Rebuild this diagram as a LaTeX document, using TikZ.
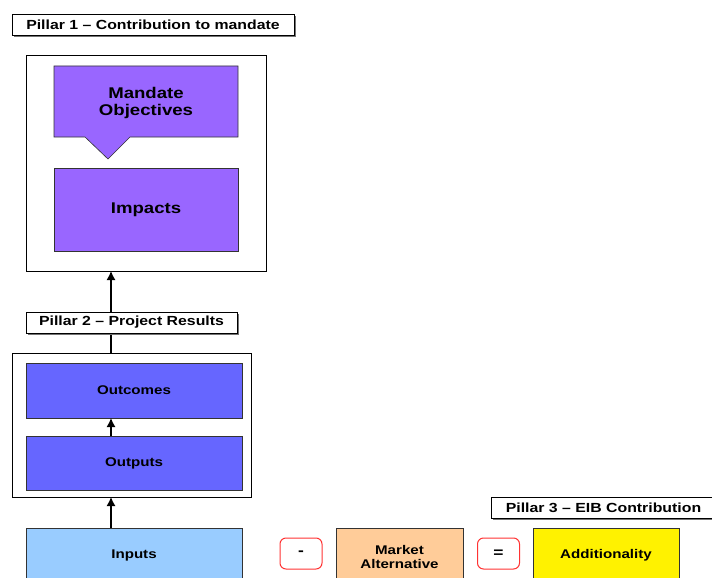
\documentclass[tikz,border=0pt]{standalone}
\usepackage{fontspec}
\setmainfont{Liberation Sans}[FakeStretch=1.2]
\usepackage{tikz}
\usetikzlibrary{positioning,calc,shadows,arrows.meta}

\definecolor{purp}{HTML}{9966FF}
\definecolor{blu}{HTML}{6666FF}
\definecolor{lightblu}{HTML}{99CCFF}
\definecolor{peach}{HTML}{FFCC99}
\definecolor{signred}{HTML}{FF3333}

\begin{document}
\begin{tikzpicture}[
        x=1pt,y=-1pt,
        every node/.style={
          outer sep=0pt,
          inner sep=0pt,
          align=center,
          font=\fontsize{12.6}{14}\selectfont\bfseries
          },
        pillar/.style={
          draw=black,
          fill=white,
          line width=0.7pt,
          minimum height=21pt,
          font=\fontsize{13.2}{15}\selectfont\bfseries,
          drop shadow={shadow xshift=1.6pt,shadow yshift=-1.6pt,fill=black!55,opacity=1}
          },
        frame/.style={
          draw=black,
          fill=white,
          line width=0.9pt
          },
        inbox/.style={
          draw=black!80,
          line width=0.6pt
          },
        big/.style={
          font=\fontsize{15.5}{17}\selectfont\bfseries
          },
        sign/.style={
          draw=signred,
          fill=white,
          rounded corners=6pt,
          line width=1pt,
          minimum width=42pt,
          minimum height=31pt,
          font=\fontsize{14.5}{16}\selectfont\bfseries
          },
        >={Latex[length=9pt,width=9pt]}
        ]
        \useasboundingbox (0,0) rectangle (712,578);
        \clip (0,0) rectangle (712,578);
        \coordinate (axis) at (111,0);

        % Pillar 1
        \node[pillar,minimum width=282pt] (pil1) at (153,24.5) {Pillar 1 -- Contribution to mandate};
        \node[frame,minimum width=240pt,minimum height=216pt] (frame1) at (146,163) {};
        \node[minimum width=184pt,minimum height=71pt] (obj) at (146,101.5) {};
        \draw[inbox,fill=purp] (obj.north west) -- (obj.north east) -- (obj.south east)
          -- ($(obj.south west)+(76,0)$) -- ($(obj.south west)+(54,22)$)
          -- ($(obj.south west)+(31,0)$) -- (obj.south west) -- cycle;
        \node[big] at ($(obj)+(0,1.5)$) {Mandate\\Objectives};
        \node[inbox,big,fill=purp,minimum width=184pt,minimum height=83pt] (impacts) at (146,209.5) {Impacts};

        % Pillar 2
        \node[frame,minimum width=239pt,minimum height=144pt] (frame2) at (131.5,425) {};
        \node[inbox,fill=blu,minimum width=216pt,minimum height=55pt] (outcomes) at (134,390.5) {Outcomes};
        \node[inbox,fill=blu,minimum width=216pt,minimum height=54pt] (outputs) at (134,463) {Outputs};
        \draw[->,line width=1.3pt] (frame2.north -| axis) -- (frame1.south -| axis);
        \draw[->,line width=1.3pt] (outputs.north -| axis) -- (outcomes.south -| axis);
        \node[pillar,minimum width=211pt] (pil2) at (131.5,322.5) {Pillar 2 -- Project Results};

        % Pillar 3
        \node[pillar,minimum width=225pt] (pil3) at (603.5,507.5) {Pillar 3 -- EIB Contribution};
        \node[inbox,fill=lightblu,minimum width=216pt,minimum height=54pt] (inputs) at (134,555) {Inputs};
        \node[sign] (minus) at (301,553.5) {-};
        \node[inbox,fill=peach,minimum width=127pt,minimum height=58pt] (market) at (399.5,557) {Market\\Alternative};
        \node[sign] (equals) at (498.5,553.5) {=};
        \node[inbox,fill=yellow,minimum width=146pt,minimum height=54pt] (addit) at (606,555) {Additionality};
        \draw[->,line width=1.3pt] (inputs.north -| axis) -- (frame2.south -| axis);
\end{tikzpicture}
\end{document}
